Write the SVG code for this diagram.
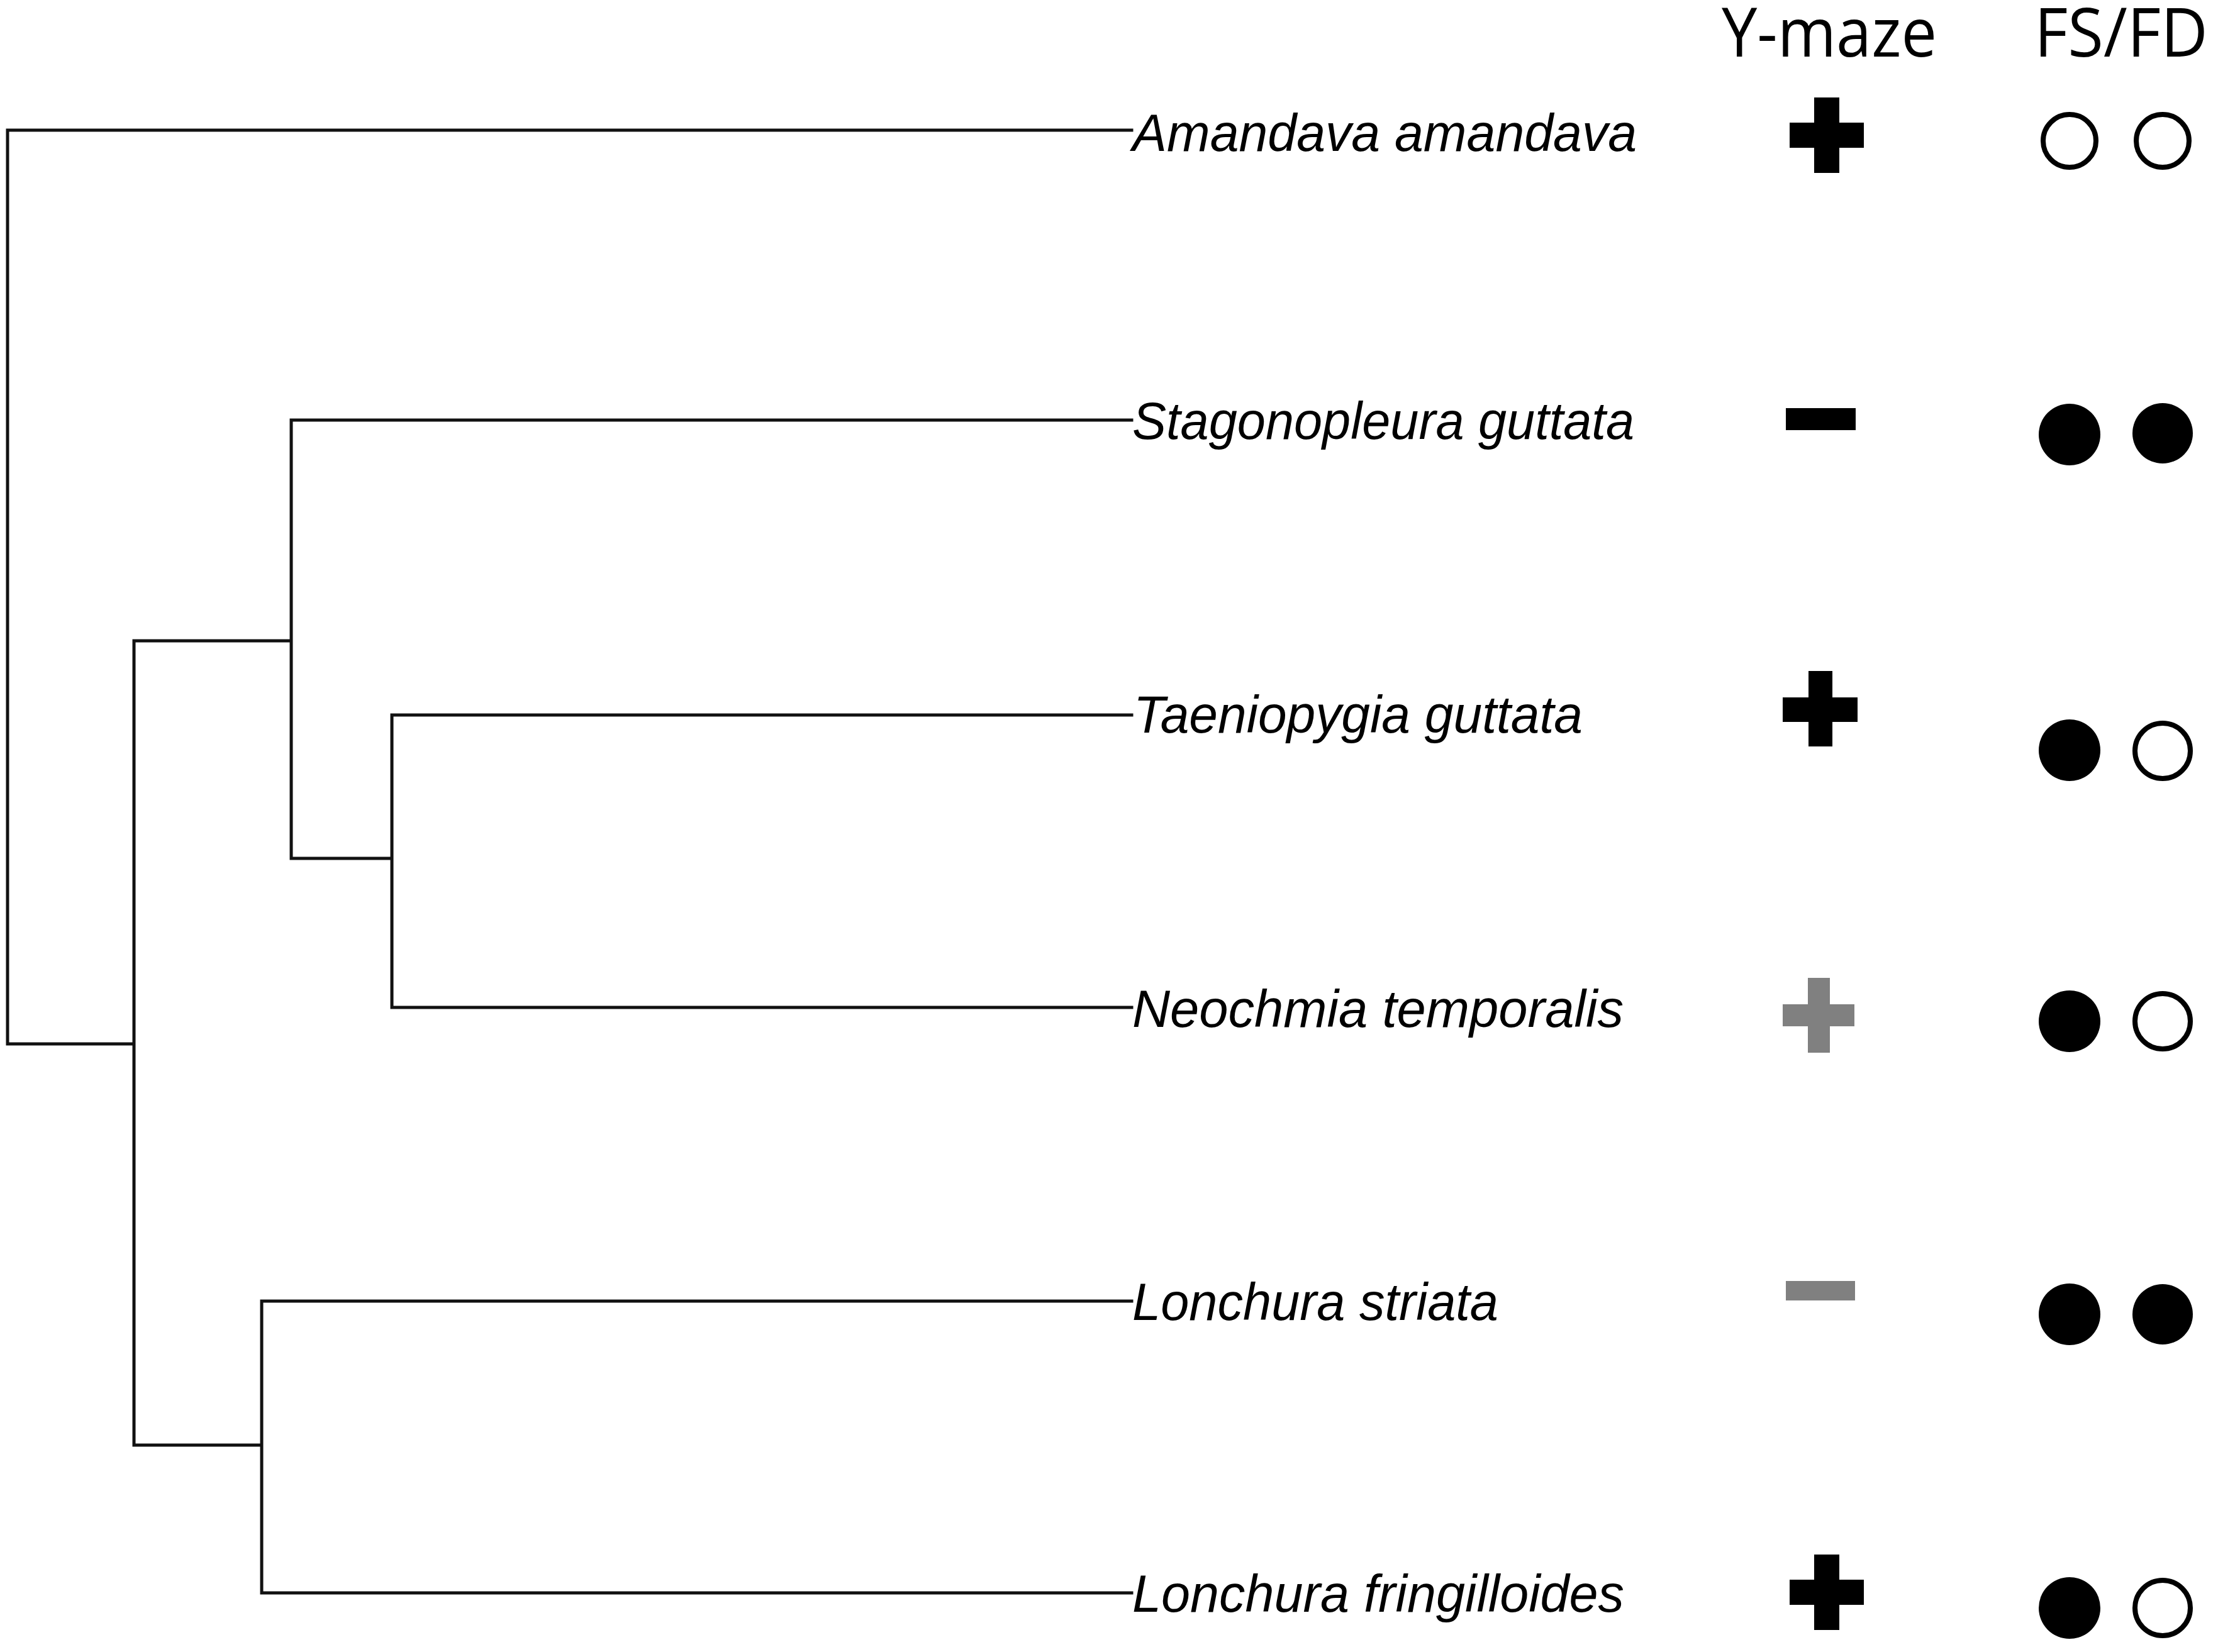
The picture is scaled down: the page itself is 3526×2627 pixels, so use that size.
<svg xmlns="http://www.w3.org/2000/svg" width="3526" height="2627" viewBox="0 0 3526 2627">
<style>
.br{fill:none;stroke:#111;stroke-width:5;stroke-linecap:square;stroke-linejoin:miter}
.lab{font-family:"Liberation Sans",Arial,sans-serif;font-style:italic;font-size:84px;fill:#000}
.hdr{font-family:"Open Sans","Noto Sans",sans-serif;font-size:108px;fill:#000}
.on{fill:#000}
.gr{fill:#808080}
.op{fill:#fff;stroke:#000;stroke-width:8}
</style>
<rect x="0" y="0" width="3526" height="2627" fill="#fff"/>
<g id="headers">
<text class="hdr" x="2737" y="90" textLength="342" lengthAdjust="spacingAndGlyphs">Y-maze</text>
<text class="hdr" x="3234" y="90" textLength="276" lengthAdjust="spacingAndGlyphs">FS/FD</text>
</g>
<g id="connectors">
<path class="br" d="M12,207 V1660 M12,207 H1799 M12,1660 H213 M213,1019 V2298 M213,1019 H463 M463,668 V1365 M463,668 H1799 M463,1365 H623 M623,1137 V1602 M623,1137 H1799 M623,1602 H1799 M213,2298 H416 M416,2069 V2533 M416,2069 H1799 M416,2533 H1799"/>
</g>
<g id="taxon-amandava">
<text class="lab" x="1800" y="240" textLength="802" lengthAdjust="spacingAndGlyphs">Amandava amandava</text>
<path class="on" d="M2884,155 h40 v40 h39 v40 h-39 v40 h-40 v-40 h-39 v-40 h39 z"/>
<circle class="op" cx="3290" cy="224" r="42"/>
<circle class="op" cx="3438" cy="224" r="42"/>
</g>
<g id="taxon-stagonopleura">
<text class="lab" x="1800" y="698" textLength="798" lengthAdjust="spacingAndGlyphs">Stagonopleura guttata</text>
<rect class="on" x="2839" y="649" width="111" height="35"/>
<circle class="on" cx="3290" cy="691" r="49"/>
<circle class="on" cx="3438" cy="689" r="48"/>
</g>
<g id="taxon-taeniopygia">
<text class="lab" x="1802" y="1165" textLength="714" lengthAdjust="spacingAndGlyphs">Taeniopygia guttata</text>
<path class="on" d="M2875,1067 h38 v42 h40 v39 h-40 v39 h-38 v-39 h-41 v-39 h41 z"/>
<circle class="on" cx="3290" cy="1193" r="49"/>
<circle class="op" cx="3438" cy="1194" r="44"/>
</g>
<g id="taxon-neochmia">
<text class="lab" x="1800" y="1633" textLength="781" lengthAdjust="spacingAndGlyphs">Neochmia temporalis</text>
<path class="gr" d="M2874,1555 h35 v42 h39 v35 h-39 v42 h-35 v-42 h-40 v-35 h40 z"/>
<circle class="on" cx="3290" cy="1624" r="49"/>
<circle class="op" cx="3438" cy="1624" r="44"/>
</g>
<g id="taxon-lonchura-striata">
<text class="lab" x="1800" y="2099" textLength="582" lengthAdjust="spacingAndGlyphs">Lonchura striata</text>
<rect class="gr" x="2839" y="2037" width="110" height="31"/>
<circle class="on" cx="3290" cy="2090" r="49"/>
<circle class="on" cx="3438" cy="2090" r="48"/>
</g>
<g id="taxon-lonchura-fringilloides">
<text class="lab" x="1800" y="2563" textLength="782" lengthAdjust="spacingAndGlyphs">Lonchura fringilloides</text>
<path class="on" d="M2884,2472 h40 v40 h39 v40 h-39 v40 h-40 v-40 h-39 v-40 h39 z"/>
<circle class="on" cx="3290" cy="2557" r="49"/>
<circle class="op" cx="3438" cy="2557" r="44"/>
</g>
</svg>
